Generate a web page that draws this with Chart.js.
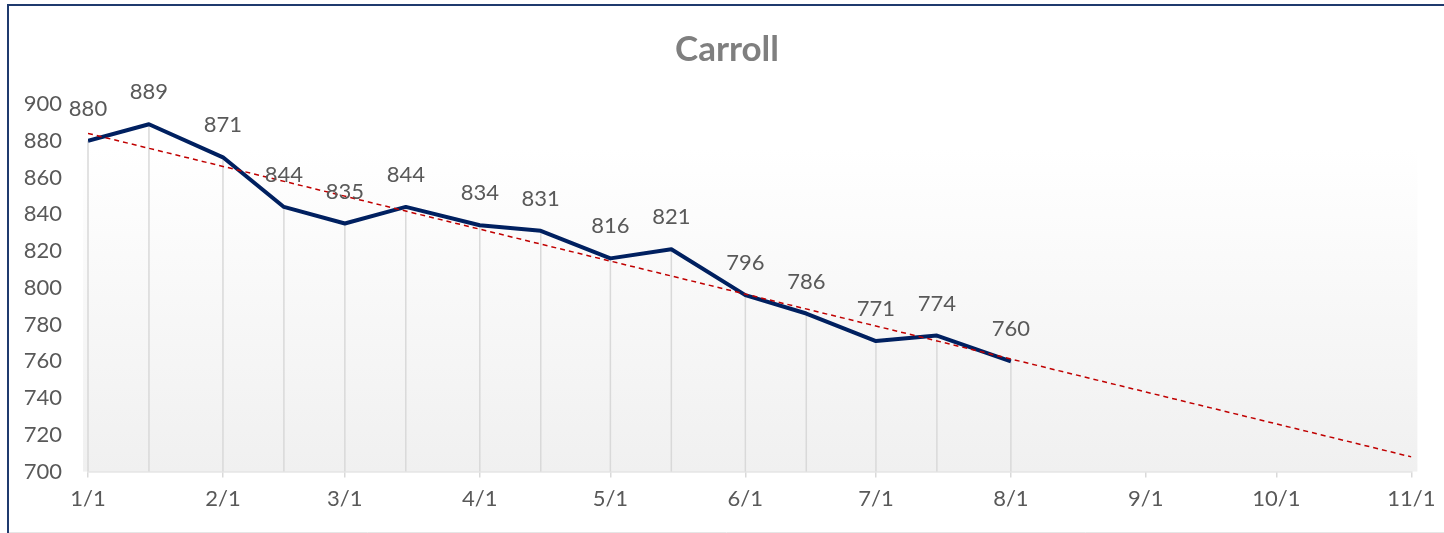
<!DOCTYPE html>
<html>
<head>
<meta charset="utf-8">
<script src="https://cdn.jsdelivr.net/npm/chart.js@4"></script>
<style>
  html, body { margin: 0; padding: 0; background: #fff; }
  #wrap { width: 1444px; height: 533px; position: relative; }
</style>
</head>
<body>
<div id="wrap"><canvas id="myChart" width="1444" height="533"></canvas></div>
<script>
// data
const dates = ["2023-01-01", "2023-01-15", "2023-02-01", "2023-02-15", "2023-03-01",
  "2023-03-15", "2023-04-01", "2023-04-15", "2023-05-01", "2023-05-15",
  "2023-06-01", "2023-06-15", "2023-07-01", "2023-07-15", "2023-08-01"];
const values = [880, 889, 871, 844, 835, 844, 834, 831, 816, 821, 796, 786, 771, 774, 760];

const trendDates = ["2023-01-01", "2023-11-01"];
const trendValues = [884, 708];

const tickDates = ["2023-01-01", "2023-02-01", "2023-03-01", "2023-04-01", "2023-05-01",
  "2023-06-01", "2023-07-01", "2023-08-01", "2023-09-01", "2023-10-01", "2023-11-01"];
const tickLabels = ["1/1", "2/1", "3/1", "4/1", "5/1", "6/1", "7/1", "8/1", "9/1", "10/1", "11/1"];

const yTicks = [700, 720, 740, 760, 780, 800, 820, 840, 860, 880, 900];

const titleText = "Carroll";

const FONT = "Lato, 'Open Sans', sans-serif";
const day0 = Date.parse("2023-01-01");

function dayNum(s) {
  return Math.round((Date.parse(s) - day0) / 86400000);
}

const tickDays = tickDates.map(dayNum);

// plot area fill + drop lines + labels + title + frame
const excelLook = {
  id: "excelLook",
  beforeDatasetsDraw(chart) {
    const ctx = chart.ctx;
    const a = chart.chartArea;
    ctx.save();
    const g = ctx.createLinearGradient(0, a.top, 0, a.bottom);
    g.addColorStop(0, "#ffffff");
    g.addColorStop(0.12, "#ffffff");
    g.addColorStop(1, "#f0f0f0");
    ctx.fillStyle = g;
    ctx.fillRect(a.left - 5, a.top - 8, a.right - a.left + 11, a.bottom - a.top + 8);

    // drop lines
    const meta = chart.getDatasetMeta(0);
    ctx.strokeStyle = "#d9d9d9";
    ctx.lineWidth = 1.5;
    meta.data.forEach((p) => {
      ctx.beginPath();
      ctx.moveTo(p.x, p.y);
      ctx.lineTo(p.x, a.bottom);
      ctx.stroke();
    });
    ctx.restore();
  },
  afterDatasetsDraw(chart) {
    const ctx = chart.ctx;
    const meta = chart.getDatasetMeta(0);
    ctx.save();
    ctx.font = "22px " + FONT;
    ctx.fillStyle = "#595959";
    ctx.textAlign = "center";
    ctx.textBaseline = "middle";
    meta.data.forEach((p, i) => {
      ctx.fillText(String(values[i]), p.x, p.y - 32);
    });
    ctx.restore();
  },
  afterDraw(chart) {
    const ctx = chart.ctx;
    ctx.save();
    ctx.font = "bold 35px " + FONT;
    ctx.fillStyle = "#7f7f7f";
    ctx.textAlign = "center";
    ctx.textBaseline = "middle";
    ctx.fillText(titleText, 727, 50);

    ctx.strokeStyle = "#1f3a6e";
    ctx.lineWidth = 2;
    ctx.beginPath();
    ctx.moveTo(8, 533);
    ctx.lineTo(8, 5);
    ctx.lineTo(1444, 5);
    ctx.stroke();
    ctx.strokeStyle = "#e6e6e6";
    ctx.lineWidth = 1;
    ctx.beginPath();
    ctx.moveTo(9, 532.5);
    ctx.lineTo(1444, 532.5);
    ctx.stroke();
    ctx.restore();
  }
};

const ctx = document.querySelector("#myChart").getContext("2d");

const myChart = new Chart(ctx, {
  type: "line",
  data: {
    datasets: [
      {
        label: titleText,
        data: dates.map((d, i) => ({ x: dayNum(d), y: values[i] })),
        borderColor: "#002060",
        borderWidth: 4,
        borderJoinStyle: "round",
        pointRadius: 0,
        tension: 0,
        order: 1
      },
      {
        label: "Trend",
        data: trendDates.map((d, i) => ({ x: dayNum(d), y: trendValues[i] })),
        borderColor: "#c00000",
        borderWidth: 1.5,
        borderDash: [5, 4],
        pointRadius: 0,
        order: 0
      }
    ]
  },
  options: {
    responsive: false,
    animation: false,
    layout: { padding: { left: 0, right: 28, top: 104, bottom: 12 } },
    plugins: {
      legend: { display: false },
      tooltip: { enabled: false },
      title: { display: false }
    },
    scales: {
      x: {
        type: "linear",
        min: tickDays[0],
        max: tickDays[tickDays.length - 1],
        afterBuildTicks(scale) {
          scale.ticks = tickDays.map((v) => ({ value: v }));
        },
        ticks: {
          autoSkip: false,
          maxRotation: 0,
          padding: 8.5,
          color: "#595959",
          font: { family: FONT, size: 22 },
          callback(v) {
            const i = tickDays.indexOf(v);
            return i >= 0 ? tickLabels[i] : "";
          }
        },
        grid: { drawOnChartArea: false, drawTicks: true, tickLength: 6, color: "#d9d9d9", lineWidth: 1.5 },
        border: { display: true, color: "#d9d9d9", width: 1.5 }
      },
      y: {
        min: yTicks[0],
        max: yTicks[yTicks.length - 1],
        afterFit(scale) {
          scale.width = 88;
        },
        afterBuildTicks(scale) {
          scale.ticks = yTicks.map((v) => ({ value: v }));
        },
        ticks: {
          padding: 26,
          color: "#595959",
          font: { family: FONT, size: 22 }
        },
        grid: { display: false, drawTicks: false },
        border: { display: false }
      }
    }
  },
  plugins: [excelLook]
});
</script>
</body>
</html>
